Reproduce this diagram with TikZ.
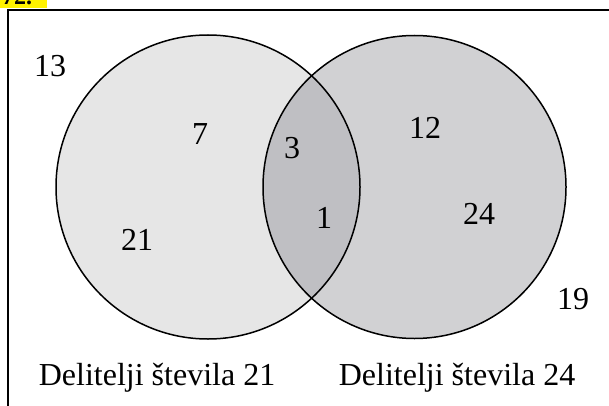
\documentclass[tikz,border=0pt]{standalone}
\usepackage{fontspec}
\setmainfont{Liberation Serif}
\tikzset{>=stealth}
\definecolor{levo}{HTML}{E6E6E6}
\definecolor{desno}{HTML}{D1D1D3}
\definecolor{presek}{HTML}{BFBFC3}
\tikzset{stevilo/.style={font=\fontsize{32}{38}\selectfont, inner sep=0pt}}

\begin{document}
\begin{tikzpicture}[x=1pt, y=-1pt]
    \useasboundingbox (0,0) rectangle (609,406);
    % oznaka naloge
    \begin{scope}
    \clip (0,0) rectangle (47,8);
    \fill[yellow] (0,0) rectangle (47,8);
    \node[font=\bfseries\fontsize{24}{28}\selectfont, anchor=base west, inner sep=0pt] (naloga) at (2,5) {72.};
    \end{scope}
    \draw[line width=2] (8,406) -- (8,10) -- (609,10);
    \coordinate (A) at (208,187);
    \coordinate (B) at (414.5,187);
    \fill[levo] (A) circle (152);
    \fill[desno] (B) circle (151.5);
    \begin{scope}
    \clip (A) circle (152);
    \fill[presek] (B) circle (151.5);
    \end{scope}
    \draw[line width=1.5] (A) circle (152);
    \draw[line width=1.5] (B) circle (151.5);
    \node[stevilo] (n13) at (50,66) {13};
    \node[stevilo] (n7) at (200,134) {7};
    \node[stevilo] (n21) at (137,240) {21};
    \node[stevilo] (n3) at (292,148) {3};
    \node[stevilo] (n1) at (324,218) {1};
    \node[stevilo] (n12) at (425,128) {12};
    \node[stevilo] (n24) at (479,214) {24};
    \node[stevilo] (n19) at (573,299) {19};
    \node[stevilo] (d21) at (157,378) {Delitelji števila 21};
    \node[stevilo] (d24) at (457,378) {Delitelji števila 24};
\end{tikzpicture}
\end{document}
